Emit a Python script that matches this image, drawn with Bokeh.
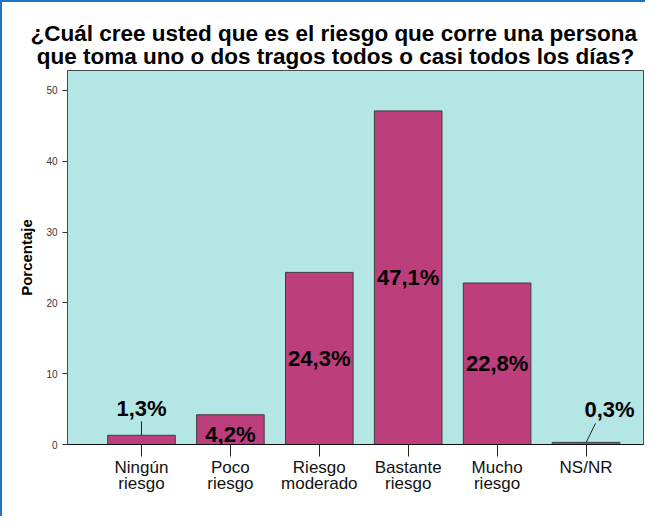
from bokeh.plotting import figure
from bokeh.models import Range1d, FixedTicker, Title, ColumnDataSource
from bokeh.core.properties import value
from bokeh.embed import file_html
from bokeh.resources import INLINE

# ---------------- data ----------------
title_lines = [
    "¿Cuál cree usted que es el riesgo que corre una persona",
    "que toma uno o dos tragos todos o casi todos los días?",
]
categories = ["Ningún\nriesgo", "Poco\nriesgo", "Riesgo\nmoderado",
              "Bastante\nriesgo", "Mucho\nriesgo", "NS/NR"]
percentages = [1.3, 4.2, 24.3, 47.1, 22.8, 0.3]
y_ticks = [0, 10, 20, 30, 40, 50]
y_axis_label = "Porcentaje"

# ---------------- layout ----------------
W, H = 645, 516
BORDER = 2  # css frame line width, shifts the canvas
FL, FT, FR, FB = 67, 70, 643, 444
FW, FH = FR - FL, FB - FT
SLOT = 88.9
FIRST = 141
X0 = (FL - FIRST) / SLOT
X1 = X0 + FW / SLOT
Y0, Y1 = 0.0, 52.8
PXX = FW / (X1 - X0)
PXY = FH / (Y1 - Y0)

FONT = "Liberation Sans"
BG = "#b4e6e6"
BAR = "#bc3e7d"

p = figure(width=W, height=H, x_range=Range1d(X0, X1), y_range=Range1d(Y0, Y1),
           output_backend="svg", toolbar_location=None,
           min_border_left=FL - BORDER, min_border_top=FT - BORDER,
           min_border_right=W - FR + BORDER, min_border_bottom=H - FB + BORDER)
p.background_fill_color = BG
p.border_fill_color = "white"
p.outline_line_color = "#4a4a4a"
p.outline_line_width = 1
p.xgrid.visible = False
p.ygrid.visible = False
p.styles = {"border-left": "2px solid #1f74c6", "border-top": "2px solid #1f74c6",
            "box-sizing": "border-box"}

xs = list(range(len(categories)))
labels = [("%.1f" % v).replace(".", ",") + "%" for v in percentages]

p.vbar(x=xs, top=percentages, bottom=0, width=0.76,
       fill_color=BAR, line_color="#3c3c3c", line_width=1)

# inside labels (centred in the bar)
inside = [i for i, v in enumerate(percentages) if v >= 2]
inside_offsets = {1: 5}
src_in = ColumnDataSource(dict(
    x=[xs[i] for i in inside],
    y=[percentages[i] / 2 for i in inside],
    t=[labels[i] for i in inside],
    yo=[inside_offsets.get(i, 0) for i in inside],
))
p.text(x="x", y="y", text="t", y_offset="yo", source=src_in,
       text_font=value(FONT), text_font_style="bold", text_font_size="22px",
       text_align="center", text_baseline="middle", text_color="black")

# outside labels with leader lines (small bars)
outside = [i for i, v in enumerate(percentages) if v < 2]
dx_px = {0: 0.0, 5: 23.5}
dy_px = {0: 27.0, 5: 33.0}
lead_px = {0: (0.0, 0.0, 0.0, 14.0), 5: (0.2, 0.0, 9.5, 19.0)}
src_out = ColumnDataSource(dict(
    x=[xs[i] + dx_px[i] / PXX for i in outside],
    y=[percentages[i] + dy_px[i] / PXY for i in outside],
    t=[labels[i] for i in outside],
))
p.text(x="x", y="y", text="t", source=src_out,
       text_font=value(FONT), text_font_style="bold", text_font_size="22px",
       text_align="center", text_baseline="middle", text_color="black")
p.segment(x0=[xs[i] + lead_px[i][0] / PXX for i in outside],
          y0=[percentages[i] + lead_px[i][1] / PXY for i in outside],
          x1=[xs[i] + lead_px[i][2] / PXX for i in outside],
          y1=[percentages[i] + lead_px[i][3] / PXY for i in outside],
          line_color="#222222", line_width=1)

# axes
xa = p.xaxis[0]
xa.ticker = FixedTicker(ticks=xs)
xa.major_label_overrides = {i: c for i, c in zip(xs, categories)}
xa.major_tick_out = 12
xa.major_tick_in = 0
xa.minor_tick_line_color = None
xa.axis_line_color = "#111111"
xa.major_tick_line_color = "#222222"
xa.major_label_text_font = FONT
xa.major_label_text_font_size = "17px"
xa.major_label_text_color = "#111111"
xa.major_label_text_line_height = 0.85
xa.major_label_standoff = 1

ya = p.yaxis[0]
ya.ticker = FixedTicker(ticks=y_ticks)
ya.major_tick_out = 5
ya.major_tick_in = 0
ya.minor_tick_line_color = None
ya.axis_line_color = "#4a4a4a"
ya.major_tick_line_color = "#333333"
ya.major_label_text_font = FONT
ya.major_label_text_font_size = "10px"
ya.major_label_text_color = "#333333"
ya.major_label_standoff = 5
ya.axis_label = y_axis_label
ya.axis_label_text_font = FONT
ya.axis_label_text_font_style = "bold"
ya.axis_label_text_font_size = "15px"
ya.axis_label_text_color = "black"
ya.axis_label_standoff = 8

# title: both lines in one block, second line indented to keep it centred
title_text = title_lines[0] + "\n\u00a0" + title_lines[1]
p.add_layout(Title(text=title_text, align="left", offset=-37,
                   text_font=FONT, text_font_style="bold", text_font_size="22.5px",
                   text_color="black", standoff=4, text_line_height=0.9), "above")

open("out.html", "w").write(file_html(p, INLINE))
